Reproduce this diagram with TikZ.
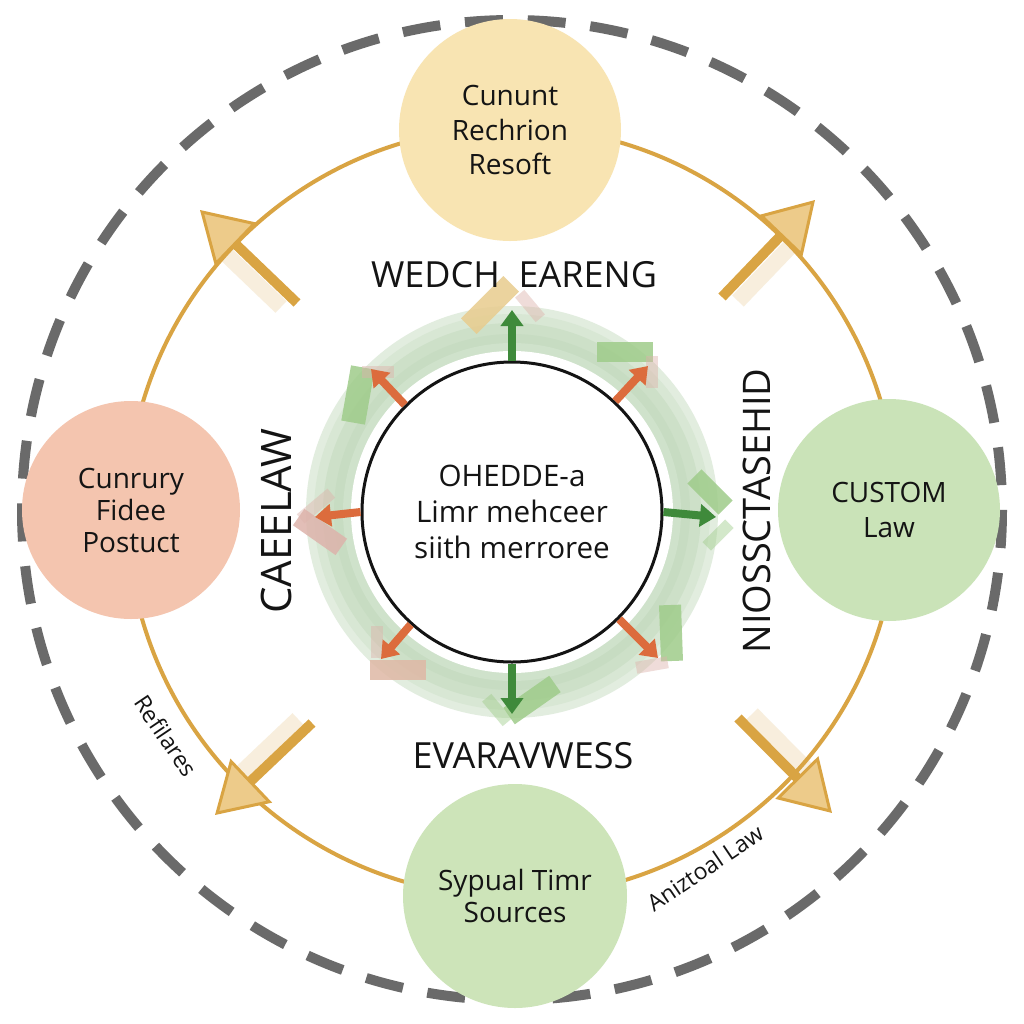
\documentclass[tikz,border=0pt]{standalone}
\usepackage{fontspec}
\setmainfont{Open Sans}
\usetikzlibrary{arrows.meta,calc}
\definecolor{gold}{HTML}{D9A443}
\definecolor{goldlight}{HTML}{EDCB8A}
\definecolor{dashgray}{HTML}{6A6A6A}
\definecolor{topfill}{HTML}{F8E4B2}
\definecolor{leftfill}{HTML}{F4C5AF}
\definecolor{rightfill}{HTML}{CAE3B8}
\definecolor{botfill}{HTML}{CDE4B9}
\definecolor{arrowgreen}{HTML}{3F8A3B}
\definecolor{arroworange}{HTML}{DC6C3D}
\definecolor{patchgreen}{HTML}{9FCC8A}
\definecolor{patchtan}{HTML}{E8CC8E}
\definecolor{patchpink}{HTML}{DDB3AB}
\definecolor{ink}{HTML}{141414}
\definecolor{ringA}{HTML}{E2EDDF}
\definecolor{ringB}{HTML}{D8E7D4}
\definecolor{ringC}{HTML}{CDE0C8}
\definecolor{ringD}{HTML}{C7DCC2}
\definecolor{ringE}{HTML}{CFE2CB}
\begin{document}
\begin{tikzpicture}[x=0.5pt,y=-0.5pt,
  topic/.style={circle, minimum size=111pt, inner sep=0pt, align=center, text=ink,
    font=\fontsize{14}{17.2}\selectfont},
  biglabel/.style={text=ink, font=\fontsize{18}{20}\selectfont, inner sep=0pt},
  smalllabel/.style={text=ink, font=\fontsize{11.5}{13}\selectfont, inner sep=0pt},
  goldarrow/.style={draw=gold, line width=5pt,
    -{Triangle[length=25pt,width=30pt,fill=goldlight,color=gold,line width=1.5pt]}},
  goldshadow/.style={draw=gold, line width=8pt, opacity=0.18},
  ringarrow/.style={line width=4pt, -{Triangle[length=8pt,width=11pt]}},
  patch/.style={rectangle, minimum width=28pt, minimum height=10pt, inner sep=0pt, opacity=0.85},
  palepatch/.style={rectangle, minimum width=16pt, minimum height=6pt, inner sep=0pt, opacity=0.45},
]
\fill[white] (0,0) rectangle (1024,1024);
\useasboundingbox (0,0) rectangle (1024,1024);
\coordinate (c) at (512,512);

% outer dashed circle
\draw[dashgray, line width=5pt, dash pattern=on 19pt off 12.42pt] (512,510) circle (490);

% gold orbit
\draw[gold, line width=2pt] (c) circle (385);

% gold arrows
\coordinate (nwT) at (297,303); \coordinate (nwP) at (200,210);
\coordinate (neT) at (722,297); \coordinate (neP) at (815,200);
\coordinate (swT) at (312,723); \coordinate (swP) at (215,815);
\coordinate (seT) at (738,718); \coordinate (seP) at (832,813);
\draw[goldshadow] ($(nwT)+(-16,4)$) -- ($(nwT)!0.65!(nwP)+(-16,4)$);
\draw[goldshadow] ($(neT)+(16,4)$) -- ($(neT)!0.65!(neP)+(16,4)$);
\draw[goldshadow] ($(swT)+(-14,-4)$) -- ($(swT)!0.65!(swP)+(-14,-4)$);
\draw[goldshadow] ($(seT)+(14,-4)$) -- ($(seT)!0.65!(seP)+(14,-4)$);
\draw[goldarrow] (nwT) -- (nwP);
\draw[goldarrow] (neT) -- (neP);
\draw[goldarrow] (swT) -- (swP);
\draw[goldarrow] (seT) -- (seP);

% topic nodes
\node[topic, fill=topfill] (top) at (510,130) {Cununt\\Rechrion\\Resoft};
\node[topic, fill=leftfill, minimum size=109pt, font=\fontsize{14}{16}\selectfont] (left) at (131,510) {Cunrury\\Fidee\\Postuct};
\node[topic, fill=rightfill] (right) at (889,510) {CUSTOM\\Law};
\node[topic, fill=botfill, minimum size=112pt, font=\fontsize{14}{16}\selectfont] (bottom) at (515,896) {Sypual Timr\\Sources};

% central ring
\fill[ringA] (c) circle (206);
\fill[ringB] (c) circle (198);
\fill[ringC] (c) circle (189);
\fill[ringD] (c) circle (178);
\fill[ringE] (c) circle (169);
\fill[white] (c) circle (161);
\node[circle, draw=ink, line width=1.5pt, minimum size=150pt, inner sep=0pt, align=center,
  text=ink, font=\fontsize{14.8}{18}\selectfont] (core) at (c)
  {OHEDDE-a\\Limr mehceer\\siith merroree};

% patches behind ring arrows
\node[patch, fill=patchtan, rotate=45, minimum width=30pt, minimum height=11pt] (pN) at (490,305) {};
\node[palepatch, fill=patchpink, rotate=-50] (pN2) at (530,306) {};
\node[patch, fill=patchgreen] (pNE) at (625,352) {};
\node[palepatch, fill=patchpink, rotate=90] (pNE2) at (652,372) {};
\node[patch, fill=patchgreen, rotate=-45, minimum width=22pt] (pE) at (710,492) {};
\node[palepatch, fill=patchgreen, rotate=45] (pE2) at (718,535) {};
\node[patch, fill=patchgreen, rotate=92, minimum height=11pt] (pSE) at (671,633) {};
\node[palepatch, fill=patchpink, rotate=10] (pSE2) at (652,665) {};
\node[patch, fill=patchgreen, rotate=35] (pS) at (532,700) {};
\node[palepatch, fill=patchgreen, rotate=-50] (pS2) at (497,710) {};
\node[patch, fill=patchpink!80!patchtan] (pSW) at (398,670) {};
\node[palepatch, fill=patchpink, rotate=90] (pSW2) at (377,642) {};
\node[palepatch, fill=patchpink, rotate=40, minimum width=20pt] (pW2) at (316,506) {};
\node[patch, fill=patchpink, rotate=-35, minimum width=26pt] (pW) at (320,532) {};
\node[patch, fill=patchgreen, rotate=80, minimum height=12pt] (pNW) at (358,395) {};
\node[palepatch, fill=patchpink, rotate=0] (pNW2) at (378,372) {};

% ring arrows
\coordinate (tN) at (512,310);
\coordinate (tNE) at (648,366);
\coordinate (tE) at (716,517);
\coordinate (tSE) at (658,658);
\coordinate (tS) at (512,714);
\coordinate (tSW) at (381,659);
\coordinate (tW) at (315,517);
\coordinate (tNW) at (371,369);
\draw[ringarrow, arrowgreen] (core.90) -- (tN);
\draw[ringarrow, arroworange] (core.47) -- (tNE);
\draw[ringarrow, arrowgreen] (core.0) -- (tE);
\draw[ringarrow, arroworange] (core.-45) -- (tSE);
\draw[ringarrow, arrowgreen] (core.-90) -- (tS);
\draw[ringarrow, arroworange] (core.-132) -- (tSW);
\draw[ringarrow, arroworange] (core.180) -- (tW);
\draw[ringarrow, arroworange] (core.135) -- (tNW);

% labels
\node[biglabel] (lblN) at (514,275) {WEDCH\ \ EARENG};
\node[biglabel] (lblS) at (523,756) {EVARAVWESS};
\node[biglabel, rotate=90, font=\fontsize{21}{22}\selectfont] (lblW) at (276,521) {CAEELAW};
\node[biglabel, rotate=90, font=\fontsize{19}{20}\selectfont] (lblE) at (757,511) {NIOSSCTASEHID};
\node[smalllabel, rotate=-56] (lblRef) at (166,736) {Refilares};
\node[smalllabel, rotate=34] (lblAniz) at (705,868) {Aniztoal Law};
\end{tikzpicture}
\end{document}
